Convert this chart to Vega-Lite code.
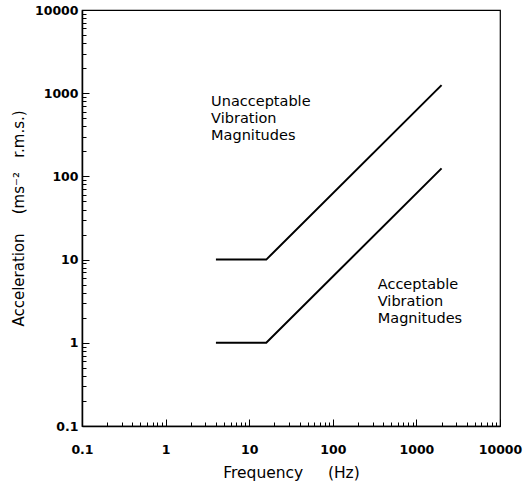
{
  "$schema": "https://vega.github.io/schema/vega-lite/v6.json",
  "width": 418,
  "height": 416,
  "autosize": "none",
  "padding": {"left": 82, "top": 10, "right": 24, "bottom": 59},
  "config": {
    "view": {"stroke": "black", "strokeWidth": 1.2},
    "font": "DejaVu Sans",
    "axis": {
      "grid": false,
      "domainColor": "black",
      "domainWidth": 1.5,
      "tickColor": "black",
      "tickWidth": 1,
      "labelColor": "black",
      "titleColor": "black",
      "labelFont": "DejaVu Sans",
      "labelFontSize": 12.5,
      "labelFontWeight": "bold",
      "titleFont": "DejaVu Sans",
      "titleFontSize": 15,
      "titleFontWeight": "normal"
    }
  },
  "datasets": {
    "lines": [
      {"series": "upper", "f": 4, "a": 10},
      {"series": "upper", "f": 16, "a": 10},
      {"series": "upper", "f": 2000, "a": 1250},
      {"series": "lower", "f": 4, "a": 1},
      {"series": "lower", "f": 16, "a": 1},
      {"series": "lower", "f": 2000, "a": 125}
    ],
    "labels": [
      {"f": 3.5, "a": 780, "text": "Unacceptable\nVibration\nMagnitudes"},
      {"f": 345, "a": 4.9, "text": "Acceptable\nVibration\nMagnitudes"}
    ]
  },
  "layer": [
    {
      "data": {"name": "lines"},
      "mark": {"type": "line", "color": "black", "strokeWidth": 2},
      "encoding": {
        "x": {
          "field": "f", "type": "quantitative",
          "scale": {"type": "log", "domain": [0.1, 10000]},
          "axis": {
            "title": "Frequency\u00a0\u00a0\u00a0\u00a0\u00a0(Hz)",
            "titleFontSize": 15.5,
            "values": [0.1,0.2,0.3,0.4,0.5,0.6,0.7,0.8,0.9,1,2,3,4,5,6,7,8,9,10,20,30,40,50,60,70,80,90,100,200,300,400,500,600,700,800,900,1000,2000,3000,4000,5000,6000,7000,8000,9000,10000],
            "labelExpr": "abs(log(datum.value)/LN10 - round(log(datum.value)/LN10)) < 0.001 ? datum.label : ''",
            "format": "~g",
            "tickSize": {"condition": {"test": "abs(log(datum.value)/LN10 - round(log(datum.value)/LN10)) < 0.001", "value": -7}, "value": -4},
            "labelPadding": 24,
            "labelFlush": false,
            "labelOverlap": false,
            "titlePadding": 7
          }
        },
        "y": {
          "field": "a", "type": "quantitative",
          "scale": {"type": "log", "domain": [0.1, 10000]},
          "axis": {
            "title": "Acceleration\u00a0\u00a0\u00a0\u00a0(ms⁻²\u00a0\u00a0\u00a0r.m.s.)",
            "values": [0.1,0.2,0.3,0.4,0.5,0.6,0.7,0.8,0.9,1,2,3,4,5,6,7,8,9,10,20,30,40,50,60,70,80,90,100,200,300,400,500,600,700,800,900,1000,2000,3000,4000,5000,6000,7000,8000,9000,10000],
            "labelExpr": "abs(log(datum.value)/LN10 - round(log(datum.value)/LN10)) < 0.001 ? datum.label : ''",
            "format": "~g",
            "tickSize": {"condition": {"test": "abs(log(datum.value)/LN10 - round(log(datum.value)/LN10)) < 0.001", "value": -7}, "value": -4},
            "labelPadding": 11,
            "labelFlush": false,
            "labelOverlap": false,
            "titlePadding": 8
          }
        },
        "detail": {"field": "series"}
      }
    },
    {
      "data": {"name": "labels"},
      "mark": {"type": "text", "align": "left", "baseline": "middle", "fontSize": 14.5, "lineBreak": "\n", "lineHeight": 17, "font": "DejaVu Sans", "color": "black"},
      "encoding": {
        "x": {"field": "f", "type": "quantitative"},
        "y": {"field": "a", "type": "quantitative"},
        "text": {"field": "text"}
      }
    }
  ]
}
